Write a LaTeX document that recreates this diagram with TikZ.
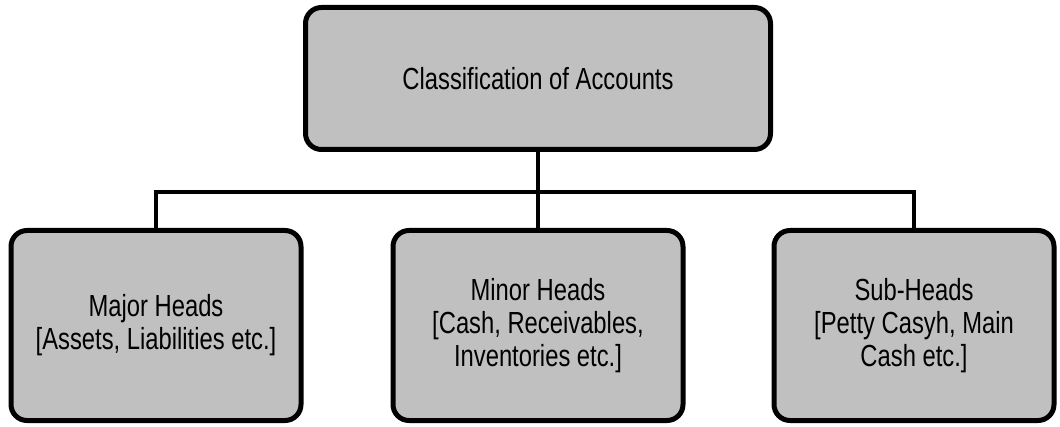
\documentclass[tikz,border=0pt]{standalone}
\usepackage{fontspec}
\setmainfont{Liberation Sans}[FakeStretch=0.78]
\begin{document}
\begin{tikzpicture}[x=1pt,y=-1pt,
  box/.style={draw=black, line width=5pt, fill=boxgray, rounded corners=16pt,
    align=center, inner sep=0pt, font=\fontsize{30.5}{33}\selectfont},
  link/.style={draw=black, line width=4.5pt}]
\definecolor{boxgray}{HTML}{C0C0C0}
\useasboundingbox (0,0) rectangle (1060,427);
\node[box, minimum width=465pt, minimum height=142pt] (top) at (538,78.5) {Classification of Accounts};
\node[box, minimum width=290pt, minimum height=190pt] (major) at (156,325.5) {Major Heads\\\relax [Assets, Liabilities etc.]};
\node[box, minimum width=290pt, minimum height=190pt] (minor) at (538,325.5) {Minor Heads\\\relax [Cash, Receivables,\\Inventories etc.]};
\node[box, minimum width=280pt, minimum height=190pt] (sub) at (914,325.5) {Sub-Heads\\\relax [Petty Casyh, Main\\Cash etc.]};
\coordinate (bar) at (538,192);
\draw[link] (top.south) -- (minor.north);
\draw[link, line width=4pt] (major.north) |- (bar) -| (sub.north);
\end{tikzpicture}
\end{document}
